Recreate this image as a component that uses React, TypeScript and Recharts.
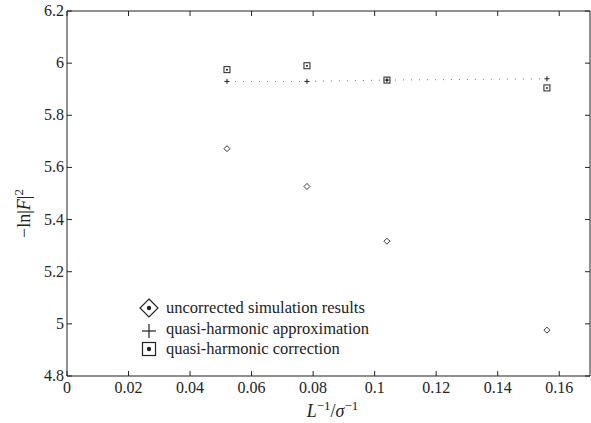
import React from 'react';
import { ScatterChart, Scatter, XAxis, YAxis, Legend } from 'recharts';

const invL = [0.052, 0.078, 0.104, 0.156];
const uncorrected = [5.672, 5.527, 5.317, 4.976];
const approximation = [5.93, 5.93, 5.935, 5.94];
const correction = [5.975, 5.99, 5.935, 5.905];

const xTicks = [0, 0.02, 0.04, 0.06, 0.08, 0.1, 0.12, 0.14, 0.16];
const yTicks = [4.8, 5, 5.2, 5.4, 5.6, 5.8, 6, 6.2];

const FONT = '"Liberation Serif", "DejaVu Serif", serif';
const INK = '#222';

const toPoints = (ys: number[]) => invL.map((x, i) => ({ x, y: ys[i] }));

const Diamond = (props: any) => {
  const { cx, cy } = props;
  const r = 3;
  return <path d={`M${cx},${cy - r}L${cx + r},${cy}L${cx},${cy + r}L${cx - r},${cy}Z`} fill="none" stroke={INK} strokeWidth={0.9} />;
};

const Plus = (props: any) => {
  const { cx, cy } = props;
  return (
    <g stroke={INK} strokeWidth={1}>
      <line x1={cx - 2.5} y1={cy} x2={cx + 2.5} y2={cy} />
      <line x1={cx} y1={cy - 2.5} x2={cx} y2={cy + 2.5} />
    </g>
  );
};

const Square = (props: any) => {
  const { cx, cy } = props;
  return (
    <g>
      <rect x={cx - 3} y={cy - 3} width={6} height={6} fill="none" stroke={INK} strokeWidth={1} />
      <circle cx={cx} cy={cy} r={1} fill={INK} />
    </g>
  );
};

const fmt = (v: number) => String(Number(v.toFixed(2)));

const BottomTick = (props: any) => {
  const { x, y, payload } = props;
  return (
    <g>
      <line x1={x} y1={y} x2={x} y2={y - 5} stroke={INK} />
      <text x={x} y={y + 17} textAnchor="middle" fontFamily={FONT} fontSize={16} fill={INK}>{fmt(payload.value)}</text>
    </g>
  );
};

const TopTick = (props: any) => {
  const { x, y } = props;
  return <line x1={x} y1={y} x2={x} y2={y + 5} stroke={INK} />;
};

const LeftTick = (props: any) => {
  const { x, y, payload } = props;
  return (
    <g>
      <line x1={x} y1={y} x2={x + 5} y2={y} stroke={INK} />
      <text x={x - 3} y={y + 5} textAnchor="end" fontFamily={FONT} fontSize={16} fill={INK}>{fmt(payload.value)}</text>
    </g>
  );
};

const RightTick = (props: any) => {
  const { x, y } = props;
  return <line x1={x} y1={y} x2={x - 5} y2={y} stroke={INK} />;
};

const legendRows = [
  { label: 'uncorrected simulation results', kind: 'diamond' },
  { label: 'quasi-harmonic approximation', kind: 'plus' },
  { label: 'quasi-harmonic correction', kind: 'square' },
];

const LegendIcon = ({ kind }: { kind: string }) => (
  <svg width={20} height={20} style={{ display: 'block' }}>
    {kind === 'diamond' && (
      <g>
        <path d="M10,1L19,10L10,19L1,10Z" fill="none" stroke={INK} strokeWidth={1.2} />
        <circle cx={10} cy={10} r={2.2} fill={INK} />
      </g>
    )}
    {kind === 'plus' && (
      <g stroke={INK} strokeWidth={1.2}>
        <line x1={3} y1={12} x2={17} y2={12} />
        <line x1={10} y1={5} x2={10} y2={19} />
      </g>
    )}
    {kind === 'square' && (
      <g>
        <rect x={3.5} y={3.5} width={13} height={13} fill="none" stroke={INK} strokeWidth={1.2} />
        <circle cx={10} cy={10} r={2.2} fill={INK} />
      </g>
    )}
  </svg>
);

const LegendBox = () => (
  <div style={{ fontFamily: FONT, fontSize: 16.5, color: INK, lineHeight: '20.5px' }}>
    {legendRows.map((r) => (
      <div key={r.label} style={{ display: 'flex', alignItems: 'center', gap: 7 }}>
        <LegendIcon kind={r.kind} />
        <span>{r.label}</span>
      </div>
    ))}
  </div>
);

const XLabel = (props: any) => {
  const { viewBox } = props;
  const cx = viewBox.x + viewBox.width / 2 + 4;
  return (
    <text x={cx} y={viewBox.y + 41} textAnchor="middle" fontFamily={FONT} fontSize={18} fill={INK}>
      <tspan fontStyle="italic">L</tspan>
      <tspan dy={-7} fontSize={13}>−1</tspan>
      <tspan dy={7}>/</tspan>
      <tspan fontStyle="italic">σ</tspan>
      <tspan dy={-7} fontSize={13}>−1</tspan>
    </text>
  );
};

const YLabel = (props: any) => {
  const { viewBox } = props;
  const cy = viewBox.y + viewBox.height / 2 + 20;
  const x = 30;
  return (
    <text x={x} y={cy} transform={`rotate(-90, ${x}, ${cy})`} textAnchor="middle" fontFamily={FONT} fontSize={18} fill={INK}>
      <tspan>−ln|</tspan>
      <tspan fontStyle="italic">F</tspan>
      <tspan>|</tspan>
      <tspan dy={-7} fontSize={13}>2</tspan>
    </text>
  );
};

export default function App() {
  return (
    <div style={{ position: 'absolute', left: 0, top: 0, background: '#fff' }}>
      <ScatterChart width={591} height={423} margin={{ top: 10, right: 0, bottom: 0, left: 0 }}>
        <XAxis
          type="number"
          dataKey="x"
          xAxisId="b"
          domain={[0, 0.17]}
          ticks={xTicks}
          interval={0}
          tickSize={0}
          tickMargin={0}
          tick={<BottomTick />}
          height={47}
          stroke={INK}
          allowDataOverflow
          label={<XLabel />}
        />
        <XAxis
          type="number"
          dataKey="x"
          xAxisId="t"
          orientation="top"
          domain={[0, 0.17]}
          ticks={xTicks}
          interval={0}
          tickSize={0}
          tickMargin={0}
          tick={<TopTick />}
          height={1}
          stroke={INK}
          allowDataOverflow
        />
        <YAxis
          type="number"
          dataKey="y"
          yAxisId="l"
          domain={[4.8, 6.2]}
          ticks={yTicks}
          interval={0}
          tickSize={0}
          tickMargin={0}
          tick={<LeftTick />}
          width={67}
          stroke={INK}
          allowDataOverflow
          label={<YLabel />}
        />
        <YAxis
          type="number"
          dataKey="y"
          yAxisId="r"
          orientation="right"
          domain={[4.8, 6.2]}
          ticks={yTicks}
          interval={0}
          tickSize={0}
          tickMargin={0}
          tick={<RightTick />}
          width={1}
          stroke={INK}
          allowDataOverflow
        />
        <Legend content={<LegendBox />} layout="vertical" align="center" verticalAlign="middle" wrapperStyle={{ left: 139, top: 298, width: 290 }} />
        <Scatter xAxisId="b" yAxisId="l" name="uncorrected simulation results" data={toPoints(uncorrected)} shape={<Diamond />} isAnimationActive={false} />
        <Scatter
          xAxisId="t"
          yAxisId="r"
          name="quasi-harmonic approximation"
          data={toPoints(approximation)}
          shape={<Plus />}
          line={{ stroke: '#777', strokeWidth: 1, strokeDasharray: '1 7' }}
          isAnimationActive={false}
        />
        <Scatter xAxisId="t" yAxisId="r" name="quasi-harmonic correction" data={toPoints(correction)} shape={<Square />} isAnimationActive={false} />
      </ScatterChart>
    </div>
  );
}
